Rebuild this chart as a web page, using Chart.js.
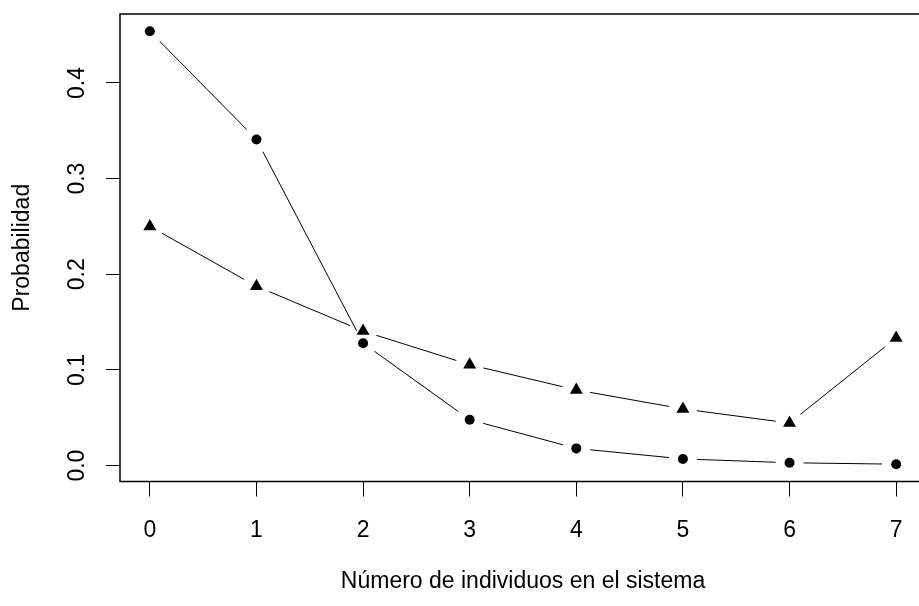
<!DOCTYPE html>
<html>
<head>
<meta charset="utf-8">
<script src="https://cdn.jsdelivr.net/npm/chart.js@4"></script>
<style>
  html, body { margin: 0; padding: 0; background: #fff; overflow: hidden; }
  #wrap { width: 919px; height: 606px; overflow: hidden; }
</style>
</head>
<body>
<div id="wrap"><canvas id="probChart" width="940" height="606"></canvas></div>
<script>
// n = 0..7 individuals in the system
const xValues = [0, 1, 2, 3, 4, 5, 6, 7];
const circleProbs = [0.454, 0.341, 0.128, 0.048, 0.018, 0.007, 0.003, 0.0015];
const triangleProbs = [0.25, 0.1875, 0.1406, 0.1055, 0.0791, 0.0593, 0.0445, 0.1335];

const xTicks = [0, 1, 2, 3, 4, 5, 6, 7];
const xTickLabels = ['0', '1', '2', '3', '4', '5', '6', '7'];
const yTicks = [0, 0.1, 0.2, 0.3, 0.4];
const yTickLabels = ['0.0', '0.1', '0.2', '0.3', '0.4'];

const xTitle = 'Número de individuos en el sistema';
const yTitle = 'Probabilidad';

const FONT = { family: '"Liberation Sans", Arial, sans-serif', size: 23 };
const GAP = 14; // R type="b" gap around points

const toPoints = ys => xValues.map((x, i) => ({ x: x, y: ys[i] }));

// box around the plot + rotated y tick labels, like R base graphics
const rFrame = {
    id: 'rFrame',
    afterDraw(chart) {
        const { ctx, chartArea: a } = chart;
        const yScale = chart.scales.y;
        ctx.save();
        ctx.strokeStyle = '#000';
        ctx.lineWidth = 1.5;
        ctx.strokeRect(a.left, a.top, a.right - a.left, a.bottom - a.top);

        ctx.fillStyle = '#000';
        ctx.font = `${FONT.size}px ${FONT.family}`;
        ctx.textAlign = 'center';
        ctx.textBaseline = 'middle';
        yScale.ticks.forEach(t => {
            const i = yTicks.indexOf(t.value);
            if (i < 0) return;
            const y = yScale.getPixelForValue(t.value);
            ctx.save();
            ctx.translate(78, y);
            ctx.rotate(-Math.PI / 2);
            ctx.fillText(yTickLabels[i], 0, 0);
            ctx.restore();
        });
        ctx.restore();
    }
};

const ctx = document.getElementById('probChart');

new Chart(ctx, {
    type: 'line',
    data: {
        datasets: [
            {
                data: toPoints(circleProbs),
                showLine: false,
                pointStyle: 'circle',
                pointRadius: 5,
                pointHoverRadius: 5,
                pointBackgroundColor: '#000',
                pointBorderWidth: 0,
                order: 0
            },
            {
                data: toPoints(triangleProbs),
                showLine: false,
                pointStyle: 'triangle',
                pointRadius: 7.5,
                pointHoverRadius: 7.5,
                pointBackgroundColor: '#000',
                pointBorderWidth: 0,
                order: 0
            },
            {
                data: toPoints(circleProbs),
                borderColor: '#000',
                borderWidth: 1,
                tension: 0,
                pointRadius: GAP,
                pointHoverRadius: GAP,
                pointBackgroundColor: '#fff',
                pointBorderWidth: 0,
                order: 1
            },
            {
                data: toPoints(triangleProbs),
                borderColor: '#000',
                borderWidth: 1,
                tension: 0,
                pointRadius: GAP,
                pointHoverRadius: GAP,
                pointBackgroundColor: '#fff',
                pointBorderWidth: 0,
                order: 2
            }
        ]
    },
    options: {
        responsive: false,
        animation: false,
        events: [],
        layout: {
            padding: { left: 0, top: 11, right: 12, bottom: 0 }
        },
        plugins: {
            legend: { display: false },
            tooltip: { enabled: false }
        },
        scales: {
            x: {
                type: 'linear',
                min: -0.28,
                max: 7.28,
                afterBuildTicks: s => { s.ticks = xTicks.map(v => ({ value: v })); },
                afterFit: s => { s.height = 124.5; },
                border: { display: false },
                grid: {
                    drawOnChartArea: false,
                    drawTicks: true,
                    tickLength: 15,
                    color: '#000',
                    lineWidth: 1
                },
                ticks: {
                    autoSkip: false,
                    maxRotation: 0,
                    padding: 20,
                    color: '#000',
                    font: FONT,
                    callback: v => xTickLabels[xTicks.indexOf(v)]
                },
                title: {
                    display: true,
                    text: xTitle,
                    color: '#000',
                    font: FONT,
                    padding: { top: 0, bottom: 11 }
                }
            },
            y: {
                type: 'linear',
                min: -0.0166,
                max: 0.4721,
                afterBuildTicks: s => { s.ticks = yTicks.map(v => ({ value: v })); },
                afterFit: s => { s.width = 120; },
                border: { display: false },
                grid: {
                    drawOnChartArea: false,
                    drawTicks: true,
                    tickLength: 14,
                    color: '#000',
                    lineWidth: 1
                },
                ticks: { display: false },
                title: {
                    display: true,
                    text: yTitle,
                    color: '#000',
                    font: FONT,
                    padding: { top: 9, bottom: 0 }
                }
            }
        }
    },
    plugins: [rFrame]
});
</script>
</body>
</html>
